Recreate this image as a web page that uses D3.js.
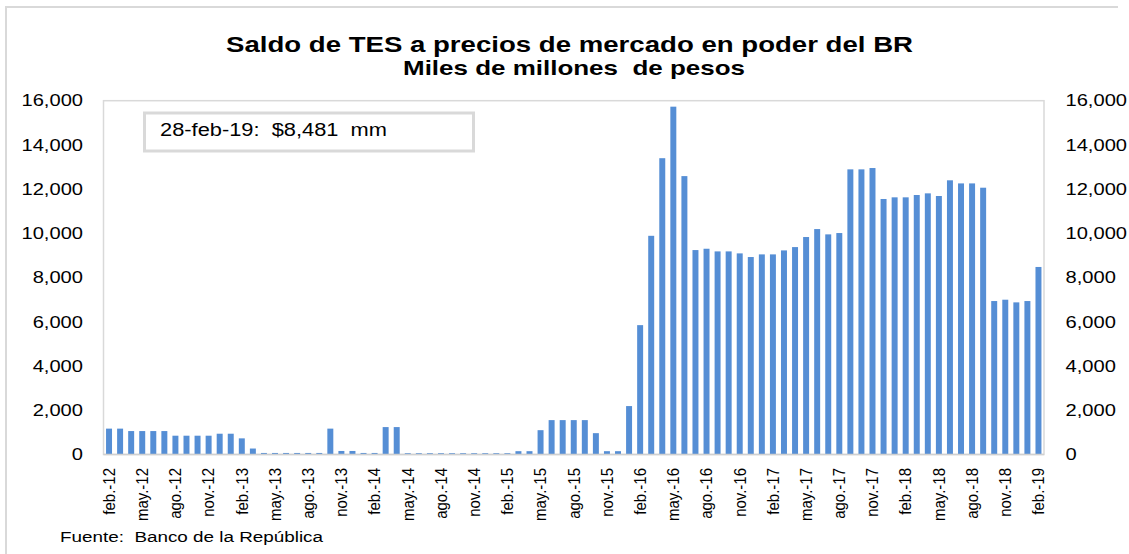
<!DOCTYPE html>
<html>
<head>
<meta charset="utf-8">
<script src="https://cdn.jsdelivr.net/npm/d3@7"></script>
<style>
  html, body { margin: 0; padding: 0; background: #ffffff; }
  svg { display: block; }
  text { font-family: "Liberation Sans", Arial, sans-serif; fill: #000; }
</style>
</head>
<body>
<svg id="chart" width="1129" height="554"></svg>
<script>
const categories = [
  "feb.-12","mar.-12","abr.-12","may.-12","jun.-12","jul.-12","ago.-12","sep.-12","oct.-12","nov.-12","dic.-12","ene.-13",
  "feb.-13","mar.-13","abr.-13","may.-13","jun.-13","jul.-13","ago.-13","sep.-13","oct.-13","nov.-13","dic.-13","ene.-14",
  "feb.-14","mar.-14","abr.-14","may.-14","jun.-14","jul.-14","ago.-14","sep.-14","oct.-14","nov.-14","dic.-14","ene.-15",
  "feb.-15","mar.-15","abr.-15","may.-15","jun.-15","jul.-15","ago.-15","sep.-15","oct.-15","nov.-15","dic.-15","ene.-16",
  "feb.-16","mar.-16","abr.-16","may.-16","jun.-16","jul.-16","ago.-16","sep.-16","oct.-16","nov.-16","dic.-16","ene.-17",
  "feb.-17","mar.-17","abr.-17","may.-17","jun.-17","jul.-17","ago.-17","sep.-17","oct.-17","nov.-17","dic.-17","ene.-18",
  "feb.-18","mar.-18","abr.-18","may.-18","jun.-18","jul.-18","ago.-18","sep.-18","oct.-18","nov.-18","dic.-18","ene.-19",
  "feb.-19"
];

const saldo = [
  1170, 1170, 1060, 1060, 1060, 1060, 850, 850, 850, 850, 940, 940,
  730, 270, 70, 70, 70, 70, 70, 70, 1170, 160, 160, 70,
  70, 1240, 1240, 60, 60, 60, 60, 60, 60, 60, 60, 60,
  60, 150, 150, 1100, 1555, 1555, 1555, 1555, 965, 150, 150, 2190,
  5850, 9890, 13400, 15730, 12590, 9245, 9305, 9185, 9185, 9095, 8930, 9050,
  9050, 9230, 9380, 9835, 10195, 9955, 10015, 12895, 12895, 12955, 11555, 11630,
  11630, 11735, 11810, 11690, 12400, 12260, 12260, 12065, 6940, 7000, 6880, 6940,
  8481
];

const xTickLabels = [
  "feb.-12","may.-12","ago.-12","nov.-12","feb.-13","may.-13","ago.-13","nov.-13",
  "feb.-14","may.-14","ago.-14","nov.-14","feb.-15","may.-15","ago.-15","nov.-15",
  "feb.-16","may.-16","ago.-16","nov.-16","feb.-17","may.-17","ago.-17","nov.-17",
  "feb.-18","may.-18","ago.-18","nov.-18","feb.-19"
];
const yTicks = [0, 2000, 4000, 6000, 8000, 10000, 12000, 14000, 16000];

const titleLine1 = "Saldo de TES a precios de mercado en poder del BR";
const titleLine2 = "Miles de millones  de pesos";
const annotation = "28-feb-19:  $8,481  mm";
const source = "Fuente:  Banco de la República";

const svg = d3.select("#chart");
const plot = { left: 103.5, right: 1044, top: 100.7, bottom: 454.5 };
const SX = 1.22;

const x = d3.scaleBand().domain(categories).range([plot.left, plot.right]).paddingInner(0.46).paddingOuter(0.23);
const y = d3.scaleLinear().domain([0, 16000]).range([plot.bottom, plot.top]);
const fmt = d3.format(",");

// outer frame
svg.append("line").attr("x1", 6).attr("x2", 1118).attr("y1", 7).attr("y2", 7)
  .attr("stroke", "#d9d9d9").attr("stroke-width", 2);
svg.append("line").attr("x1", 6).attr("x2", 6).attr("y1", 6).attr("y2", 554)
  .attr("stroke", "#d9d9d9").attr("stroke-width", 2);

// plot frame
svg.append("rect").attr("x", plot.left).attr("y", plot.top)
  .attr("width", plot.right - plot.left).attr("height", plot.bottom - plot.top)
  .attr("fill", "none").attr("stroke", "#d9d9d9").attr("stroke-width", 1.5);

// bars
svg.append("g").selectAll("rect").data(saldo).join("rect")
  .attr("x", (d, i) => x(categories[i]))
  .attr("width", x.bandwidth())
  .attr("y", d => y(d))
  .attr("height", d => y(0) - y(d))
  .attr("fill", "#558ed5");

// baseline
svg.append("line").attr("x1", plot.left).attr("x2", plot.right)
  .attr("y1", y(0)).attr("y2", y(0)).attr("stroke", "#d0d0d0").attr("stroke-width", 1.5);

// left axis
svg.append("g").selectAll("text").data(yTicks).join("text")
  .attr("transform", d => `translate(83,${y(d)}) scale(${SX},1)`)
  .attr("text-anchor", "end").attr("dy", "0.35em")
  .style("font-size", "16.5px").text(d => fmt(d));

// right axis
svg.append("g").selectAll("text").data(yTicks).join("text")
  .attr("transform", d => `translate(1065.5,${y(d)}) scale(${SX},1)`)
  .attr("text-anchor", "start").attr("dy", "0.35em")
  .style("font-size", "16.5px").text(d => fmt(d));

// x labels
svg.append("g").selectAll("text").data(xTickLabels).join("text")
  .attr("transform", d => `translate(${x(d) + x.bandwidth() / 2},468) scale(1.1,1) rotate(-90)`)
  .attr("text-anchor", "end").attr("dy", "0.35em")
  .style("font-size", "15px").text(d => d);

// titles
svg.append("text").attr("x", 226).attr("y", 52)
  .attr("textLength", 687).attr("lengthAdjust", "spacingAndGlyphs")
  .style("font-size", "22px").style("font-weight", "bold").text(titleLine1);
svg.append("text").attr("x", 403).attr("y", 75)
  .attr("textLength", 342).attr("lengthAdjust", "spacingAndGlyphs")
  .style("font-size", "21px").style("font-weight", "bold").style("white-space", "pre").text(titleLine2);

// annotation box
svg.append("rect").attr("x", 144.5).attr("y", 113).attr("width", 329).attr("height", 38)
  .attr("fill", "#fff").attr("stroke", "#d9d9d9").attr("stroke-width", 3);
svg.append("text").attr("x", 160).attr("y", 136)
  .attr("textLength", 227).attr("lengthAdjust", "spacingAndGlyphs")
  .style("font-size", "18px").style("white-space", "pre").text(annotation);

// source
svg.append("text").attr("x", 60).attr("y", 542)
  .attr("textLength", 263).attr("lengthAdjust", "spacingAndGlyphs")
  .style("font-size", "14px").style("white-space", "pre").text(source);
</script>
</body>
</html>
